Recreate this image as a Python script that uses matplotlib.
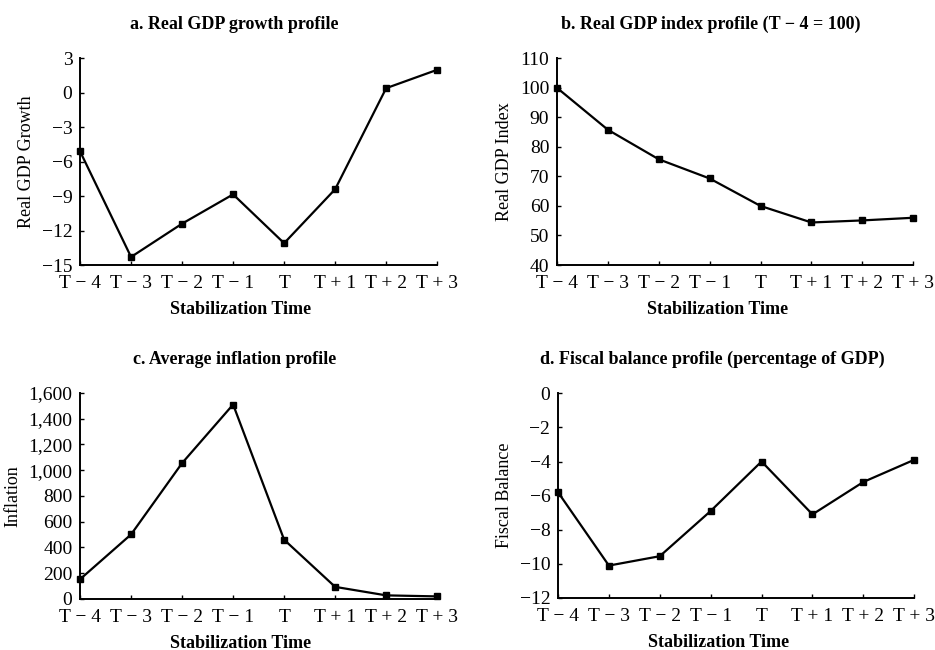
import numpy as np
import matplotlib
matplotlib.use('Agg')
from matplotlib import pyplot as plt
from matplotlib.ticker import FuncFormatter

plt.rcParams['font.family'] = ['Liberation Serif', 'DejaVu Serif']
plt.rcParams['axes.unicode_minus'] = True

# stabilization time categories
periods = ['T \u2212 4', 'T \u2212 3', 'T \u2212 2', 'T \u2212 1', 'T', 'T + 1', 'T + 2', 'T + 3']

# series
gdp_growth = [-5.1, -14.3, -11.4, -8.85, -13.1, -8.4, 0.4, 2.0]
gdp_index = [100, 85.8, 75.8, 69.3, 60.0, 54.4, 55.1, 56.0]
inflation = [153, 501, 1055, 1510, 460, 94, 28, 20]
fiscal_balance = [-5.8, -10.1, -9.55, -6.9, -4.0, -7.1, -5.2, -3.9]

panels = [
    dict(title='a. Real GDP growth profile', ylabel='Real GDP Growth',
         data=gdp_growth, yticks=np.arange(-15, 4, 3), ylim=(-15, 3),
         rect=[0.0856, 0.5923, 0.382, 0.318]),
    dict(title='b. Real GDP index profile (T \u2212 4 = 100)', ylabel='Real GDP Index',
         data=gdp_index, yticks=np.arange(40, 111, 10), ylim=(40, 110),
         rect=[0.5957, 0.5923, 0.381, 0.318]),
    dict(title='c. Average inflation profile', ylabel='Inflation',
         data=inflation, yticks=np.arange(0, 1601, 200), ylim=(0, 1600),
         rect=[0.0856, 0.0785, 0.382, 0.317]),
    dict(title='d. Fiscal balance profile (percentage of GDP)', ylabel='Fiscal Balance',
         data=fiscal_balance, yticks=np.arange(-12, 1, 2), ylim=(-12, 0),
         rect=[0.5968, 0.08, 0.381, 0.315]),
]

def fmt(v, pos):
    s = '{:,.0f}'.format(v)
    return s.replace('-', '\u2212')

fig = plt.figure(figsize=(9.35, 6.5), dpi=100)
x = np.arange(len(periods))

for p in panels:
    ax = fig.add_axes(p['rect'])
    ax.plot(x, p['data'], color='black', lw=1.6, marker='s', ms=4, clip_on=False)
    ax.set_xlim(0, len(periods) - 1)
    ax.set_ylim(*p['ylim'])
    ax.set_yticks(p['yticks'])
    ax.yaxis.set_major_formatter(FuncFormatter(fmt))
    ax.set_xticks(x)
    ax.set_xticklabels(periods)
    ax.spines['top'].set_visible(False)
    ax.spines['right'].set_visible(False)
    ax.spines['left'].set_linewidth(1.4)
    ax.spines['bottom'].set_linewidth(1.4)
    ax.tick_params(direction='in', length=3, width=1, labelsize=14)
    ax.tick_params(axis='y', pad=5.5)
    ax.tick_params(axis='x', pad=7.5)
    ax.set_ylabel(p['ylabel'], fontsize=13, labelpad=5)
    ax.set_xlabel('Stabilization Time', fontsize=13, fontweight='bold', labelpad=6, x=0.45)
    ax.set_title(p['title'], fontsize=13, fontweight='bold', pad=21, x=0.433)

fig.savefig('out.png', dpi=100)
